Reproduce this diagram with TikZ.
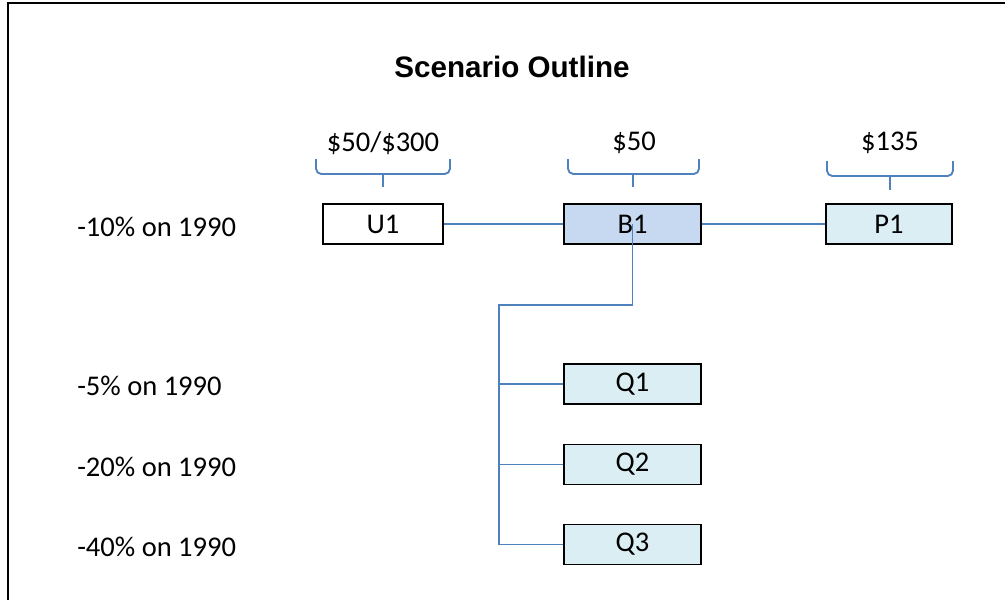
\documentclass[tikz,border=0pt]{standalone}
\usepackage{fontspec}
\setmainfont{Carlito}
\newfontfamily\titlefont{Liberation Sans}
\usetikzlibrary{positioning}
\definecolor{linkblue}{RGB}{79,129,189}
\definecolor{basefill}{RGB}{198,217,241}
\definecolor{optfill}{RGB}{218,238,243}
\newcommand{\labelsize}{\fontsize{21.4}{25}\selectfont}

\begin{document}
\begin{tikzpicture}[
    x=0.75pt, y=-0.75pt,
    box/.style={
        rectangle,
        draw=black,
        line width=1.3pt,
        minimum width=102.75pt,
        minimum height=30pt,
        inner sep=0pt,
        font=\labelsize
    },
    link/.style={
        draw=linkblue,
        line width=1.4pt
    },
    brace/.style={
        link,
        rounded corners=4pt
    },
    rowlabel/.style={
        anchor=west,
        inner sep=0pt,
        font=\labelsize
    },
    price/.style={
        font=\labelsize
    }
]
\useasboundingbox (0,0) rectangle (1005,600);

% Frame
\draw[line width=1.5pt] (8,600) -- (8,3) -- (1005,3);

% Title
\node[font=\titlefont\bfseries\fontsize{22.2}{26}\selectfont] (title) at (512,67) {Scenario Outline};

% Row labels
\node[rowlabel] (r10) at (77,227) {-10\% on 1990};
\node[rowlabel] (r5)  at (77,386) {-5\% on 1990};
\node[rowlabel] (r20) at (77,467) {-20\% on 1990};
\node[rowlabel] (r40) at (77,547) {-40\% on 1990};

% Upper row
\node[box, minimum width=90pt]   (u1) at (383,224)   {U1};
\node[box, fill=basefill]        (b1) at (632.5,224) {B1};
\node[box, fill=optfill, minimum width=94.5pt] (p1) at (889,224) {P1};

% Lower column
\node[box, fill=optfill] (q1) at (632.5,384)   {Q1};
\node[box, fill=optfill] (q2) at (632.5,464.5) {Q2};
\node[box, fill=optfill] (q3) at (632.5,544.5) {Q3};

% Price braces
\draw[brace] (316,159) -- (316,174) -- (450,174) -- (450,159);
\draw[link]  (383,174) -- (383,187);
\node[price] (pu1) at (383,143) {\$50/\$300};

\draw[brace] (568,159) -- (568,174) -- (699,174) -- (699,159);
\draw[link]  (633,174) -- (633,187);
\node[price] (pb1) at (634,143) {\$50};

\draw[brace] (827,161) -- (827,176) -- (953,176) -- (953,161);
\draw[link]  (890,176) -- (890,190);
\node[price] (pp1) at (890,143) {\$135};

% Connectors
\draw[link] (u1.east) -- (b1.west);
\draw[link] (b1.east) -- (p1.west);

\coordinate (split) at (499,305);
\draw[link] (b1.center) -- (b1.center |- split) -- (split) -- (split |- q3.west) -- (q3.west);
\draw[link] (split |- q1.west) -- (q1.west);
\draw[link] (split |- q2.west) -- (q2.west);

\end{tikzpicture}
\end{document}
